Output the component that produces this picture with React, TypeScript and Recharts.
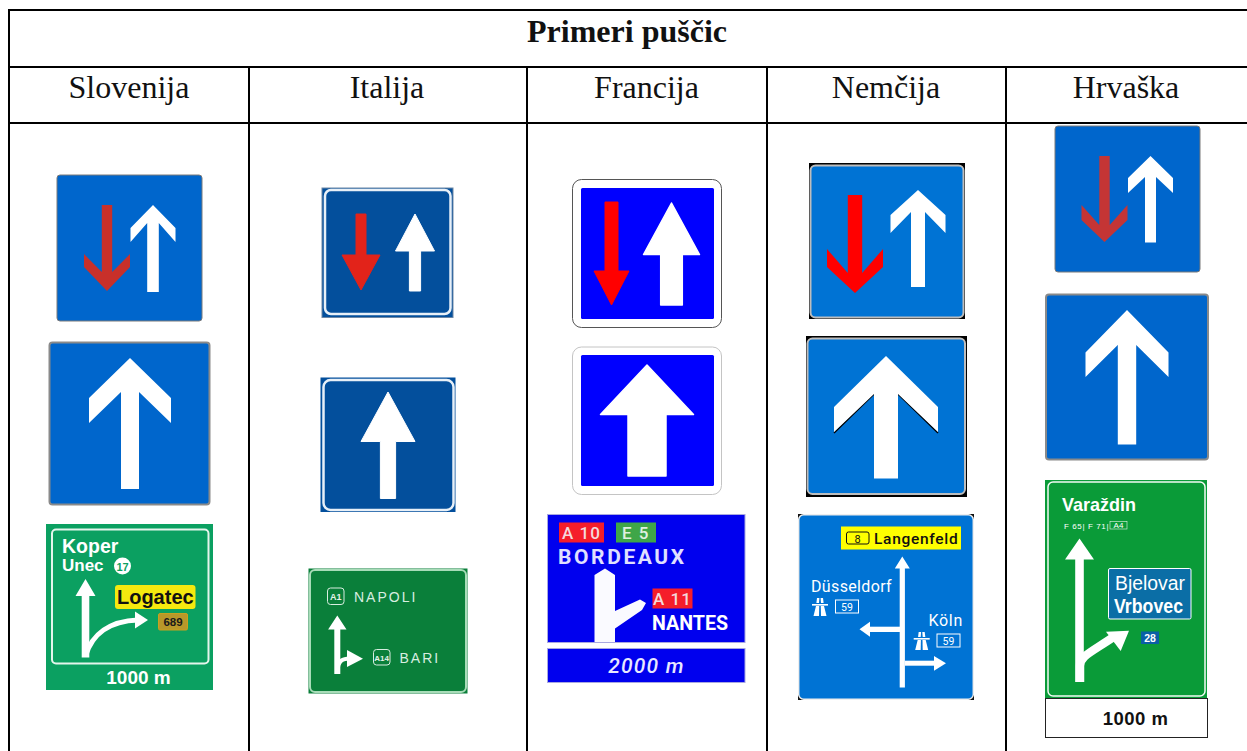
import React from 'react';
import { ScatterChart, Scatter, XAxis, YAxis, ReferenceLine } from 'recharts';

const W = 1247, H = 751;
const title = 'Primeri puščic';
const countries = ['Slovenija', 'Italija', 'Francija', 'Nemčija', 'Hrvaška'];
const columnCenters = [129, 387, 646.5, 886, 1126];
const columnEdges = [249, 527, 767, 1006];
const rowEdges = [67, 123];
const slovenianSign = ['Koper', 'Unec', '17', 'Logatec', '689', '1000 m'];
const italianSign = ['A1', 'NAPOLI', 'A14', 'BARI'];
const frenchSign = ['A 10', 'E 5', 'BORDEAUX', 'A 11', 'NANTES', '2000 m'];
const germanSign = ['8', 'Langenfeld', 'Düsseldorf', '59', 'Köln', '59'];
const croatianSign = ['Varaždin', 'F 65|', 'F 71|', 'A4', 'Bjelovar', 'Vrbovec', '28', '1000 m'];

type Anchor = { id: string; x: number; y: number };
const anchors: Anchor[] = [
  { id: 'siPriority', x: 57, y: 175 }, { id: 'siOneWay', x: 49, y: 342 }, { id: 'siGreen', x: 46, y: 524 },
  { id: 'itPriority', x: 322, y: 188 }, { id: 'itOneWay', x: 320, y: 377 }, { id: 'itGreen', x: 308, y: 568 },
  { id: 'frPriority', x: 572, y: 179 }, { id: 'frOneWay', x: 572, y: 347 }, { id: 'frBlue', x: 547, y: 514 },
  { id: 'dePriority', x: 809, y: 163 }, { id: 'deOneWay', x: 806, y: 336 }, { id: 'deBlue', x: 798, y: 514 },
  { id: 'hrPriority', x: 1055, y: 126 }, { id: 'hrOneWay', x: 1045, y: 294 }, { id: 'hrGreen', x: 1045, y: 480 },
];
const headerPoints = [
  { x: 627, y: 42, label: title, bold: true },
  ...countries.map((label, i) => ({ x: columnCenters[i], y: 98, label, bold: false })),
];

const SANS = '"Liberation Sans", Arial, sans-serif';
const DIN = 'Roboto, sans-serif';

// arrow outline: tip at (cx, tip); works pointing up or down
const arrow = (cx: number, tip: number, hw: number, wt: number, wb: number, hs: number, notch: number, bottom: number, fill: string, round = 0) => (
  <polygon
    points={[[cx, tip], [cx + hw, wt], [cx + hw, wb], [cx + hs, notch], [cx + hs, bottom], [cx - hs, bottom], [cx - hs, notch], [cx - hw, wb], [cx - hw, wt]].map(p => p.join(',')).join(' ')}
    fill={fill} stroke={round ? fill : 'none'} strokeWidth={round} strokeLinejoin="round"
  />
);
const T = (p: any) => <text fontFamily={SANS} fill="#fff" {...p} />;
const motorway = (x: number, y: number) => (
  <g fill="#fff">
    <rect x={x - 8} y={y - 3} width={16} height={1.6} />
    <polygon points={`${x - 3},${y - 9} ${x - 0.6},${y - 9} ${x - 1},${y - 4} ${x - 3.6},${y - 4}`} />
    <polygon points={`${x + 0.6},${y - 9} ${x + 3},${y - 9} ${x + 3.6},${y - 4} ${x + 1},${y - 4}`} />
    <polygon points={`${x - 4},${y - 1} ${x - 0.8},${y - 1} ${x - 1},${y + 9} ${x - 6.5},${y + 9}`} />
    <polygon points={`${x + 0.8},${y - 1} ${x + 4},${y - 1} ${x + 6.5},${y + 9} ${x + 1},${y + 9}`} />
  </g>
);

const drawings: Record<string, () => React.ReactNode> = {
  siPriority: () => (
    <g>
      <rect x={57} y={175} width={145} height={146} rx={3} fill="#0066cc" stroke="#7a7a7a" strokeWidth={1} />
      {arrow(107, 291, 23, 267, 254, 5.2, 272, 205, '#c8302a')}
      {arrow(153, 205, 22.5, 228, 242, 5.8, 223, 292, '#fff')}
    </g>
  ),
  siOneWay: () => (
    <g>
      <rect x={49.5} y={342.5} width={160} height={162} rx={3} fill="#0066cc" stroke="#8a8a8a" strokeWidth={2} />
      {arrow(130, 358, 41, 398, 423, 9, 392, 489, '#fff')}
    </g>
  ),
  siGreen: () => (
    <g>
      <rect x={46} y={524} width={167} height={166} fill="#0ba061" />
      <rect x={52} y={529.5} width={156.5} height={134} rx={4} fill="none" stroke="#e4f5ec" strokeWidth={2} />
      <T x={62} y={553} fontSize={19.5} fontWeight={700}>{slovenianSign[0]}</T>
      <T x={62} y={571} fontSize={17} fontWeight={700}>{slovenianSign[1]}</T>
      <circle cx={122.5} cy={566} r={8.5} fill="#fff" />
      <T x={122.5} y={570.5} fontSize={11} fontWeight={700} fill="#0ba061" textAnchor="middle">{slovenianSign[2]}</T>
      {arrow(85.5, 579, 10, 596, 596, 3.8, 596, 657.5, '#fff')}
      <path d="M85.5 656 C92 634 110 621 138 620" fill="none" stroke="#fff" strokeWidth={5} />
      <polygon points="148,620 135,611.5 135,628.5" fill="#fff" />
      <rect x={115} y={585} width={80.5} height={24} rx={3} fill="#f5e90f" />
      <T x={155.3} y={603.5} fontSize={20} fontWeight={700} fill="#111" textAnchor="middle">{slovenianSign[3]}</T>
      <rect x={158.5} y={613.5} width={29} height={16.5} rx={1.5} fill="#b8982a" stroke="#c9a11e" />
      <T x={173} y={626} fontSize={11.5} fontWeight={700} fill="#1a1a1a" textAnchor="middle">{slovenianSign[4]}</T>
      <T x={138.5} y={683.5} fontSize={19} fontWeight={700} textAnchor="middle">{slovenianSign[5]}</T>
    </g>
  ),
  itPriority: () => (
    <g>
      <rect x={322} y={188} width={131} height={129.5} fill="#034f9c" stroke="#6d87a5" />
      <rect x={325} y={190} width={125.5} height={124} rx={6} fill="#034f9c" stroke="#e8f0f8" strokeWidth={2.5} />
      {arrow(361, 290, 19, 255, 255, 5, 255, 214, '#e2231a', 1)}
      {arrow(415, 214, 19.5, 251, 251, 5.6, 251, 291, '#fff', 1)}
    </g>
  ),
  itOneWay: () => (
    <g>
      <rect x={320.5} y={377.5} width={135} height={134.5} fill="#034f9c" />
      <rect x={323.5} y={380} width={130} height={130} rx={7} fill="#034f9c" stroke="#e8f0f8" strokeWidth={2.5} />
      {arrow(388, 392, 27, 441.5, 441.5, 7.6, 441.5, 498.5, '#fff', 1)}
    </g>
  ),
  itGreen: () => (
    <g>
      <rect x={308.5} y={568.5} width={159} height={125} fill="#0a7f3a" />
      <rect x={310} y={570} width={156} height={122} rx={5} fill="#0a7f3a" stroke="#a8dcb8" strokeWidth={2} />
      <rect x={327.5} y={588} width={16.5} height={16.5} rx={3} fill="none" stroke="#d8eee0" />
      <T x={335.7} y={599.5} fontSize={9} fontWeight={700} fill="#e6f3ea" textAnchor="middle">{italianSign[0]}</T>
      <T x={354} y={602} fontSize={14} letterSpacing={2} fill="#d8eee0">{italianSign[1]}</T>
      {arrow(337.3, 615.5, 9.2, 629.5, 629.5, 3, 629.5, 674, '#fff')}
      <path d="M337.5 671 C338 660 343 658.5 350 658.5" fill="none" stroke="#fff" strokeWidth={4} />
      <polygon points="363,658.7 347,650 347,667" fill="#fff" />
      <rect x={373.5} y={649.5} width={16.5} height={15.5} rx={3} fill="none" stroke="#d8eee0" />
      <T x={381.7} y={660.5} fontSize={8} fontWeight={700} fill="#e6f3ea" textAnchor="middle">{italianSign[2]}</T>
      <T x={399.5} y={663} fontSize={14} letterSpacing={2} fill="#d8eee0">{italianSign[3]}</T>
    </g>
  ),
  frPriority: () => (
    <g>
      <rect x={572.5} y={179.5} width={149} height={148} rx={9} fill="#fff" stroke="#555" />
      <rect x={581} y={188} width={133} height={131} rx={1.5} fill="#0000ff" />
      {arrow(611.5, 305, 17.5, 271, 271, 6.5, 271, 202, '#ff0000', 1)}
      {arrow(671.5, 203, 28, 254.5, 254.5, 10.8, 254.5, 305, '#fff', 1.5)}
    </g>
  ),
  frOneWay: () => (
    <g>
      <rect x={572.5} y={347} width={149} height={147.5} rx={9} fill="#fff" stroke="#c4c4c4" />
      <rect x={581} y={355} width={133} height={131} rx={1.5} fill="#0000ff" />
      {arrow(647, 365, 46.5, 414.5, 414.5, 19, 414.5, 476, '#fff', 1.5)}
    </g>
  ),
  frBlue: () => (
    <g>
      <rect x={547.5} y={514.5} width={197.5} height={128} fill="#0000ee" stroke="#a8a8e0" />
      <rect x={547.5} y={648.5} width={197.5} height={34} fill="#0000ee" stroke="#a8a8e0" />
      <rect x={559} y={522.5} width={45} height={20} fill="#f51d2a" />
      <T x={581.5} y={539} fontFamily={DIN} fontSize={17} fontWeight={500} letterSpacing={1} textAnchor="middle" fill="#f4d8dc">{frenchSign[0]}</T>
      <rect x={616} y={522.5} width={40} height={20} fill="#3fa648" />
      <T x={636} y={539} fontFamily={DIN} fontSize={17} fontWeight={500} letterSpacing={1.5} textAnchor="middle" fill="#dff0e0">{frenchSign[1]}</T>
      <T x={558} y={564} fontFamily={DIN} fontSize={21} fontWeight={700} letterSpacing={2.6} fill="#e0e0ff">{frenchSign[2]}</T>
      <polygon points="594.5,642 594.5,575 605,568.5 615,575 615,611 640,599.5 646,603 642,610 615,628.5 615,642" fill="#fafaff" />
      <rect x={652.5} y={588.5} width={40} height={20} fill="#f51d2a" />
      <T x={672.5} y={605} fontFamily={DIN} fontSize={17} fontWeight={500} letterSpacing={1} textAnchor="middle" fill="#f4d8dc">{frenchSign[3]}</T>
      <T x={652} y={630} fontFamily={DIN} fontSize={21} fontWeight={700} textLength={76} lengthAdjust="spacingAndGlyphs">{frenchSign[4]}</T>
      <T x={646.5} y={673} fontFamily={DIN} fontSize={21} fontWeight={500} fontStyle="italic" letterSpacing={1.2} textAnchor="middle" fill="#e8e8ff">{frenchSign[5]}</T>
    </g>
  ),
  dePriority: () => (
    <g>
      <rect x={809} y={163} width={156} height={156} fill="#000" />
      <rect x={810.5} y={165.5} width={153} height={152} rx={5} fill="#0073d4" stroke="#bdbdbd" strokeWidth={2} />
      {arrow(855, 293, 28, 267, 249, 7.2, 273, 195, '#ff0000')}
      {arrow(918, 190, 27.5, 215, 233, 7, 212, 287, '#fff')}
    </g>
  ),
  deOneWay: () => (
    <g>
      <rect x={806} y={336} width={161} height={161} fill="#000" />
      <rect x={807.5} y={338.5} width={157.5} height={155.5} rx={5} fill="#0073d4" stroke="#bdbdbd" strokeWidth={2} />
      <path d="M834 433 L874 394 M938 433 L898 394" stroke="#000" strokeWidth={1.5} />
      {arrow(886, 356, 52, 407, 432, 12, 394, 478.5, '#fff')}
    </g>
  ),
  deBlue: () => (
    <g>
      <rect x={798} y={514} width={176} height={186} fill="#111" />
      <rect x={798.7} y={514.7} width={174.6} height={184.6} rx={5} fill="#0073d4" stroke="#eee" strokeWidth={1.5} />
      <rect x={841} y={526.5} width={120} height={23} fill="#ffff00" />
      <rect x={846.5} y={532} width={22.5} height={12} rx={2} fill="none" stroke="#111" />
      <T x={857.7} y={542.5} fontFamily={DIN} fontSize={11} fill="#111" textAnchor="middle">{germanSign[0]}</T>
      <T x={874} y={543.5} fontFamily={DIN} fontSize={15.5} fontWeight={500} letterSpacing={0.7} fill="#111">{germanSign[1]}</T>
      {arrow(902.3, 556.5, 7.5, 568.5, 568.5, 2.6, 568.5, 687.5, '#fff')}
      <rect x={870} y={626.7} width={30} height={5.3} fill="#fff" />
      <polygon points="859.5,629.3 870,621.7 870,636.7" fill="#fff" />
      <rect x={905} y={660.7} width={30} height={5} fill="#fff" />
      <polygon points="946,663.2 934,656 934,670.7" fill="#fff" />
      <T x={811} y={592} fontFamily={DIN} fontSize={16} letterSpacing={0.35}>{germanSign[2]}</T>
      {motorway(820, 607)}
      <rect x={835.5} y={600} width={23} height={13} fill="none" stroke="#fff" />
      <T x={847} y={611} fontFamily={DIN} fontSize={10.5} textAnchor="middle">{germanSign[3]}</T>
      <T x={928.5} y={626} fontFamily={DIN} fontSize={16} letterSpacing={0.7}>{germanSign[4]}</T>
      {motorway(921.7, 641)}
      <rect x={937} y={634} width={23} height={13} fill="none" stroke="#fff" />
      <T x={948.5} y={645} fontFamily={DIN} fontSize={10.5} textAnchor="middle">{germanSign[5]}</T>
    </g>
  ),
  hrPriority: () => (
    <g>
      <rect x={1055} y={126} width={145} height={146} rx={3} fill="#0066cc" stroke="#7a7a7a" strokeWidth={1} />
      {arrow(1104.5, 242, 23, 220, 205, 5.2, 225, 156, '#c43535')}
      {arrow(1150.5, 156, 22.5, 178, 193, 5.5, 177, 242.5, '#fff')}
    </g>
  ),
  hrOneWay: () => (
    <g>
      <rect x={1046} y={294.5} width={162} height={165} rx={3} fill="#0066cc" stroke="#8a8a8a" strokeWidth={2} />
      {arrow(1127, 310, 41.5, 352.5, 377, 9.2, 345, 444.5, '#fff')}
    </g>
  ),
  hrGreen: () => (
    <g>
      <rect x={1045} y={480} width={162} height={218.5} fill="#0a9b38" />
      <rect x={1048} y={482} width={157} height={214} rx={5} fill="none" stroke="#f2fbf4" strokeWidth={1.5} />
      <T x={1062} y={511} fontSize={19} fontWeight={700} textLength={74} lengthAdjust="spacingAndGlyphs">{croatianSign[0]}</T>
      <T x={1064} y={528.5} fontSize={8} letterSpacing={0.6}>{croatianSign[1]}</T>
      <T x={1088} y={528.5} fontSize={8} letterSpacing={0.6}>{croatianSign[2]}</T>
      <rect x={1110} y={521.5} width={17} height={7.5} fill="none" stroke="#e8f6ec" strokeWidth={0.6} />
      <T x={1118.5} y={528.2} fontSize={8} textAnchor="middle">{croatianSign[3]}</T>
      {arrow(1079.5, 538.5, 14.5, 559.5, 559.5, 4.3, 559.5, 682, '#fff')}
      <path d="M1080 682 L1080 666 C1080 656 1090 653 1115 636" fill="none" stroke="#fff" strokeWidth={8.5} />
      <polygon points="1129,630.7 1106,631.7 1120.7,651" fill="#fff" />
      <rect x={1108.5} y={568.5} width={82.5} height={50.5} rx={1.5} fill="#0b6ea6" stroke="#fff" />
      <T x={1115} y={589.5} fontSize={20} textLength={70} lengthAdjust="spacingAndGlyphs">{croatianSign[4]}</T>
      <T x={1114} y={612.5} fontSize={20} fontWeight={700} textLength={69} lengthAdjust="spacingAndGlyphs">{croatianSign[5]}</T>
      <rect x={1141} y={631.5} width={18} height={12.5} fill="#0b5fa5" />
      <T x={1150} y={642} fontSize={10.5} fontWeight={700} textAnchor="middle">{croatianSign[6]}</T>
      <rect x={1045.5} y={698.5} width={162} height={39} fill="#fff" stroke="#222" />
      <T x={1135.5} y={724.5} fontSize={18.5} fontWeight={700} fill="#111" letterSpacing={0.5} textAnchor="middle">{croatianSign[7]}</T>
    </g>
  ),
};

const SignShape = (p: any) => {
  const a: Anchor = p.payload;
  return <g transform={`translate(${p.cx - a.x},${p.cy - a.y})`}>{drawings[a.id]()}</g>;
};
const HeaderShape = (p: any) => (
  <text x={p.cx} y={p.cy} textAnchor="middle" fontFamily='"Liberation Serif", serif' fontSize={32} fontWeight={p.payload.bold ? 700 : 400} fill="#111">
    {p.payload.label}
  </text>
);

const line = { stroke: '#000', strokeWidth: 2, ifOverflow: 'visible' as const };

export default function App() {
  return (
    <div style={{ position: 'absolute', left: 0, top: 0, width: W, height: H, background: '#fff', overflow: 'hidden' }}>
      <ScatterChart width={W} height={H} margin={{ top: 0, right: 0, bottom: 0, left: 0 }}>
        <XAxis type="number" dataKey="x" domain={[0, W]} hide />
        <YAxis type="number" dataKey="y" domain={[0, H]} reversed hide />
        <ReferenceLine {...line} segment={[{ x: 9, y: 10 }, { x: W, y: 10 }]} />
        <ReferenceLine {...line} segment={[{ x: 9, y: 9 }, { x: 9, y: H }]} />
        {rowEdges.map(y => <ReferenceLine key={y} {...line} segment={[{ x: 9, y }, { x: W, y }]} />)}
        {columnEdges.map(x => <ReferenceLine key={x} {...line} segment={[{ x, y: rowEdges[0] }, { x, y: H }]} />)}
        <Scatter data={anchors} shape={SignShape} isAnimationActive={false} />
        <Scatter data={headerPoints} shape={HeaderShape} isAnimationActive={false} />
      </ScatterChart>
    </div>
  );
}
